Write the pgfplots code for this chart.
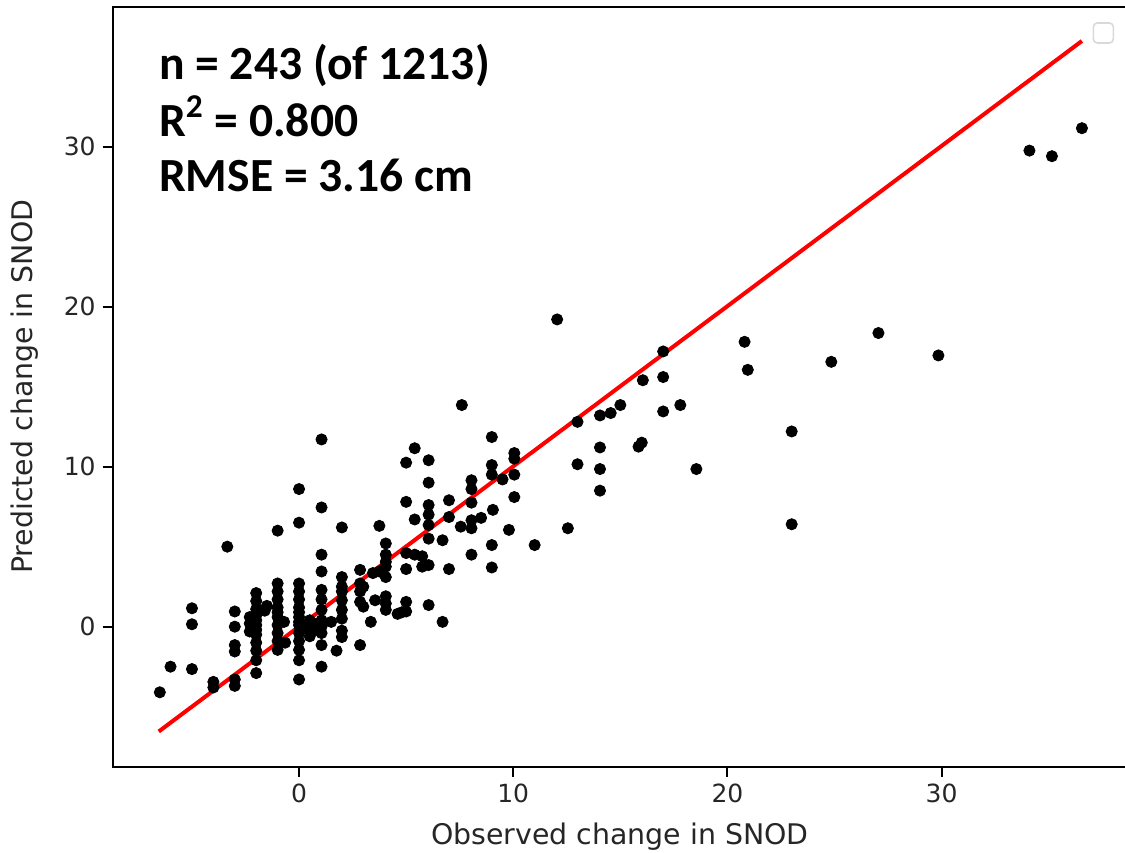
\documentclass[border=0pt]{standalone}
\usepackage{pgfplots}
\usepackage{pgfplotstable}
\pgfplotsset{compat=1.18}
\usepackage{fontspec}
\setmainfont{DejaVu Sans}
\newfontfamily\calib{Carlito}

\pgfplotstableread{
x y
-6.5 -4.1
-6.0 -2.5
-5.0 1.15
-5.0 0.15
-5.0 -2.65
-4.0 -3.45
-4.0 -3.8
-3.35 5.0
-3.0 0.95
-3.0 0.0
-3.0 -1.15
-3.0 -1.55
-3.0 -3.3
-3.0 -3.7
-2.0 2.1
-2.0 1.6
-2.0 1.1
-2.0 0.7
-2.0 0.4
-2.0 0.1
-2.0 -0.2
-2.0 -0.5
-2.0 -1.0
-2.0 -1.5
-2.0 -2.1
-2.0 -2.9
-2.3 0.6
-2.3 0.2
-2.3 -0.3
-1.6 1.0
-1.5 1.3
-1.0 6.0
-1.0 2.7
-1.0 2.2
-1.0 1.7
-1.0 1.2
-1.0 0.9
-1.0 0.6
-1.0 0.1
-1.0 -0.4
-1.0 -0.9
-1.0 -1.45
-0.65 -1.0
-0.7 0.3
0 8.6
0 6.5
0 2.7
0 2.2
0 1.7
0 1.2
0 0.9
0 0.6
0 0.3
0 0.1
0 -0.4
0 -0.9
0 -1.45
0 -2.1
0 -3.3
0.3 0.0
0.5 0.4
0.5 -0.2
0.5 -0.6
0.7 0.2
0.8 -0.2
1.05 11.7
1.05 7.45
1.05 4.5
1.05 3.45
1.05 2.3
1.05 1.7
1.05 1.05
1.05 0.4
1.05 0.0
1.05 -0.4
1.05 -1.15
1.05 -2.5
1.5 0.3
1.75 -1.5
2.0 6.2
2.0 3.1
2.0 2.5
2.0 2.2
2.0 1.65
2.0 1.05
2.0 0.5
2.0 -0.25
2.0 -0.65
2.85 3.55
2.85 2.7
2.85 2.2
2.85 1.55
2.85 -1.15
3.0 2.5
3.0 1.25
3.35 0.3
3.45 3.35
3.55 1.65
3.75 3.45
3.75 6.3
4.05 5.2
4.05 4.5
4.05 4.05
4.05 3.75
4.05 3.1
4.05 1.9
4.05 1.45
4.05 1.05
4.6 0.8
4.8 0.9
5.0 1.55
5.0 0.95
5.0 10.25
5.0 7.8
5.0 4.6
5.0 3.6
5.4 11.15
5.4 6.7
5.4 4.5
5.75 4.4
5.75 3.75
6.05 3.85
6.05 10.4
6.05 9.0
6.05 7.6
6.05 7.0
6.05 6.35
6.05 5.5
6.05 1.35
6.7 5.4
6.7 0.3
7.0 7.9
7.0 6.85
7.0 3.6
7.55 6.25
7.6 13.85
8.05 9.15
8.05 8.6
8.05 7.75
8.05 6.65
8.05 6.15
8.05 4.5
8.5 6.8
9.0 11.85
9.0 10.1
9.0 9.5
9.05 7.3
9.0 5.1
9.0 3.7
9.5 9.2
9.8 6.05
10.05 10.85
10.05 10.5
10.05 9.5
10.05 8.1
11.0 5.1
12.05 19.2
12.55 6.15
13.0 12.8
13.0 10.15
14.05 13.2
14.55 13.35
15.0 13.85
14.05 11.2
14.05 9.85
14.05 8.5
15.85 11.25
16.0 11.5
16.05 15.4
17.0 17.2
17.0 15.6
17.0 13.45
17.8 13.85
18.55 9.85
20.8 17.8
20.95 16.05
23.0 12.2
23.0 6.4
24.85 16.55
27.05 18.35
29.85 16.95
34.1 29.75
35.15 29.4
36.55 31.15
}\snod

\begin{document}
\begin{tikzpicture}
  \begin{axis}[
      at={(0,0)}, anchor=south west,
      scale only axis,
      width=507.2pt, height=379.9pt,
      xmin=-8.7, xmax=38.66,
      ymin=-8.75, ymax=38.73,
      xtick={0,10,20,30}, ytick={0,10,20,30},
      tick pos=left,
      tick align=outside,
      major tick length=5pt,
      axis line style={line width=1pt},
      tick style={line width=1pt, black},
      /pgf/number format/assume math mode=true,
      ticklabel style={font=\fontsize{12.5}{15}\selectfont, text=black!85},
      label style={font=\fontsize{14.2}{17}\selectfont, text=black!85},
      xlabel={Observed change in SNOD},
      ylabel={Predicted change in SNOD},
      xlabel style={at={(axis description cs:0.5,-0.0927)}, anchor=center},
      ylabel style={at={(axis description cs:-0.0864,0.5)}, anchor=center},
      clip=false,
    ]
    \addplot[red, line width=2pt] coordinates {(-6.55,-6.55) (36.55,36.6)};
    \addplot[only marks, mark=*, mark size=2.8pt, black] table[x=x, y=y] {\snod};
    \node[anchor=base west, inner sep=0pt, font=\calib\bfseries\fontsize{23.8}{29}\selectfont] at (axis cs:-6.55,34.17) {n = 243 (of 1213)};
    \node[anchor=base west, inner sep=0pt, font=\calib\bfseries\fontsize{23.8}{29}\selectfont] at (axis cs:-6.55,30.66) {R\textsuperscript{2} = 0.800};
    \node[anchor=base west, inner sep=0pt, font=\calib\bfseries\fontsize{23.8}{29}\selectfont] at (axis cs:-6.55,27.17) {RMSE = 3.16 cm};
    \node[draw=black!15, line width=0.8pt, rounded corners=2pt, minimum width=10pt, minimum height=10pt, inner sep=0pt] at (axis cs:37.55,37.1) {};
  \end{axis}
  \pgfresetboundingbox
  \path[use as bounding box] (-56.35pt,-42.65pt) rectangle (506.15pt,383.35pt);
\end{tikzpicture}
\end{document}
